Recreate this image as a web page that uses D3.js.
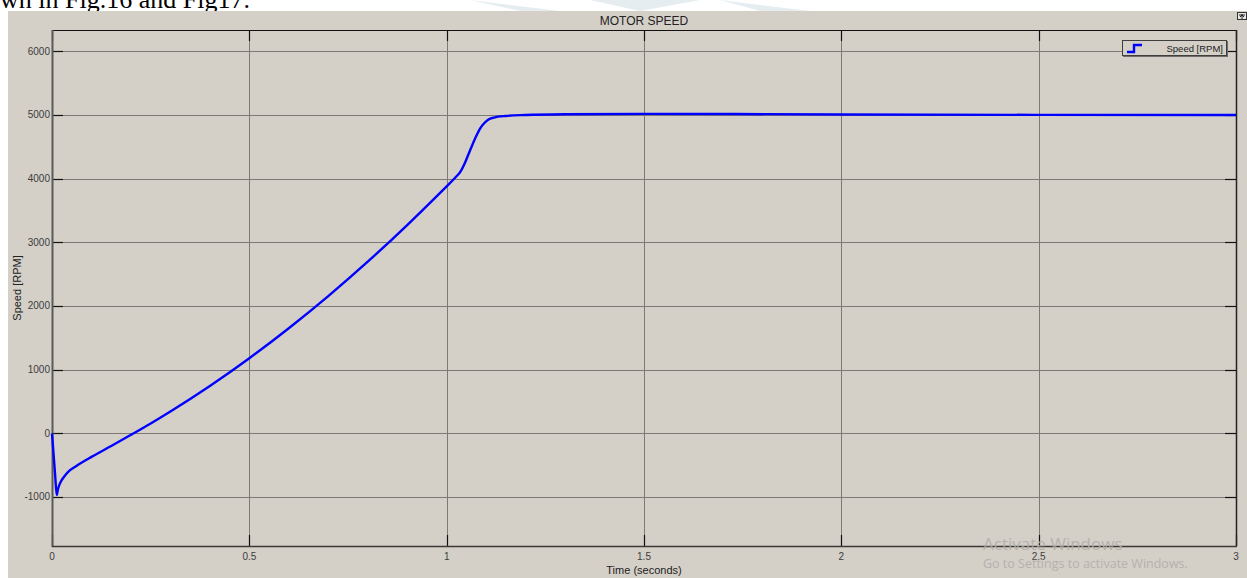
<!DOCTYPE html>
<html>
<head>
<meta charset="utf-8">
<script src="https://cdn.jsdelivr.net/npm/d3@7"></script>
<style>
  html, body { margin: 0; padding: 0; background: #ffffff; }
  svg { display: block; }
</style>
</head>
<body>
<svg id="chart" width="1247" height="578"></svg>
<script>
// Simulated motor speed response (scope trace)
const timeSec = [0, 0.004, 0.008, 0.012, 0.015, 0.02, 0.025, 0.032, 0.041, 0.06, 0.1, 0.15, 0.2, 0.25, 0.3, 0.4, 0.5, 0.6, 0.7, 0.8, 0.9, 0.97, 1.0, 1.025, 1.035, 1.045, 1.055, 1.065, 1.075, 1.085, 1.095, 1.105, 1.12, 1.15, 1.2, 1.3, 1.5, 2.0, 2.5, 3.0];
const speedRpm = [0, -330, -660, -970, -880, -790, -730, -670, -605, -520, -370, -200, -24, 155, 343, 744, 1180, 1651, 2156, 2696, 3271, 3694, 3880, 4038, 4110, 4230, 4380, 4530, 4670, 4790, 4870, 4925, 4960, 4985, 5000, 5012, 5018, 5008, 5002, 5000];

const xTicks = [0, 0.5, 1, 1.5, 2, 2.5, 3];
const xTickLabels = ["0", "0.5", "1", "1.5", "2", "2.5", "3"];
const yTicks = [-1000, 0, 1000, 2000, 3000, 4000, 5000, 6000];
const yTickLabels = ["-1000", "0", "1000", "2000", "3000", "4000", "5000", "6000"];

const titleText = "MOTOR SPEED";
const xLabel = "Time (seconds)";
const yLabel = "Speed [RPM]";
const legendLabel = "Speed [RPM]";

const svg = d3.select("#chart");
const W = 1247, H = 578;
const plot = { left: 52, top: 30, right: 1236, bottom: 546 };
const bg = "#d4d0c8";

// Caption fragment from the surrounding document, clipped at the top edge
svg.append("text")
  .attr("x", 0).attr("y", 8)
  .attr("font-family", "Liberation Serif, Times New Roman, serif")
  .attr("font-size", 26)
  .attr("fill", "#000")
  .text("wn in Fig.16 and Fig17.");

// Scope window background
svg.append("rect")
  .attr("x", 8).attr("y", 11)
  .attr("width", W - 8).attr("height", H - 11)
  .attr("fill", bg);

// Faint page watermark above the scope window
svg.append("path")
  .attr("d", "M470,0 L560,11 L520,11 Z M590,0 L700,0 L640,11 Z M720,0 L810,11 L760,11 Z")
  .attr("fill", "#dfe8ec").attr("opacity", 0.8);

const x = d3.scaleLinear().domain([0, 3]).range([plot.left, plot.right]);
const y = d3.scaleLinear().domain([-1770, 6335]).range([plot.bottom, plot.top]);

const g = svg.append("g");

// Plot area
g.append("rect")
  .attr("x", plot.left).attr("y", plot.top)
  .attr("width", plot.right - plot.left).attr("height", plot.bottom - plot.top)
  .attr("fill", bg);

// Grid lines
g.append("g").selectAll("line").data(xTicks.slice(1, -1)).join("line")
  .attr("x1", d => Math.round(x(d)) + 0.5).attr("x2", d => Math.round(x(d)) + 0.5)
  .attr("y1", plot.top).attr("y2", plot.bottom)
  .attr("stroke", "#7d7a75").attr("stroke-width", 1);
g.append("g").selectAll("line").data(yTicks).join("line")
  .attr("x1", plot.left).attr("x2", plot.right)
  .attr("y1", d => Math.round(y(d)) + 0.5).attr("y2", d => Math.round(y(d)) + 0.5)
  .attr("stroke", "#7d7a75").attr("stroke-width", 1);

// Inward tick marks on all four sides
const tickLen = 11;
g.append("g").selectAll("line").data(yTicks).join("line")
  .attr("x1", plot.left).attr("x2", plot.left + tickLen)
  .attr("y1", d => Math.round(y(d)) + 0.5).attr("y2", d => Math.round(y(d)) + 0.5)
  .attr("stroke", "#111").attr("stroke-width", 1.2);
g.append("g").selectAll("line").data(yTicks).join("line")
  .attr("x1", plot.right - tickLen).attr("x2", plot.right)
  .attr("y1", d => Math.round(y(d)) + 0.5).attr("y2", d => Math.round(y(d)) + 0.5)
  .attr("stroke", "#111").attr("stroke-width", 1.2);
g.append("g").selectAll("line").data(xTicks).join("line")
  .attr("x1", d => Math.round(x(d)) + 0.5).attr("x2", d => Math.round(x(d)) + 0.5)
  .attr("y1", plot.bottom - tickLen).attr("y2", plot.bottom)
  .attr("stroke", "#111").attr("stroke-width", 1.2);
g.append("g").selectAll("line").data(xTicks).join("line")
  .attr("x1", d => Math.round(x(d)) + 0.5).attr("x2", d => Math.round(x(d)) + 0.5)
  .attr("y1", plot.top).attr("y2", plot.top + tickLen)
  .attr("stroke", "#111").attr("stroke-width", 1.2);

// Frame: dark top/right, grey left/bottom
g.append("line").attr("x1", plot.left).attr("x2", plot.right + 1)
  .attr("y1", plot.top + 0.5).attr("y2", plot.top + 0.5)
  .attr("stroke", "#111").attr("stroke-width", 1.2);
g.append("line").attr("x1", plot.right + 0.5).attr("x2", plot.right + 0.5)
  .attr("y1", plot.top).attr("y2", plot.bottom)
  .attr("stroke", "#222").attr("stroke-width", 1.5);
g.append("line").attr("x1", plot.left + 0.5).attr("x2", plot.left + 0.5)
  .attr("y1", plot.top).attr("y2", plot.bottom + 1)
  .attr("stroke", "#5c5a57").attr("stroke-width", 2);
g.append("line").attr("x1", plot.left).attr("x2", plot.right + 1)
  .attr("y1", plot.bottom + 0.5).attr("y2", plot.bottom + 0.5)
  .attr("stroke", "#3a3936").attr("stroke-width", 1.5);

// Speed trace
const pts = timeSec.map((t, i) => [t, speedRpm[i]]);
const line = d3.line().x(d => x(d[0])).y(d => y(d[1])).curve(d3.curveMonotoneX);
g.append("path")
  .datum(pts)
  .attr("d", line)
  .attr("fill", "none")
  .attr("stroke", "#0000ff")
  .attr("stroke-width", 2.4)
  .attr("stroke-linejoin", "round");

// Tick labels
const labelFont = "Liberation Sans, Arial, sans-serif";
g.append("g").selectAll("text").data(yTicks).join("text")
  .attr("x", plot.left - 2).attr("y", d => y(d) + 3.5)
  .attr("text-anchor", "end")
  .attr("font-family", labelFont).attr("font-size", 10)
  .attr("fill", "#3c3c3c")
  .text((d, i) => yTickLabels[i]);
g.append("g").selectAll("text").data(xTicks).join("text")
  .attr("x", d => x(d)).attr("y", plot.bottom + 14)
  .attr("text-anchor", "middle")
  .attr("font-family", labelFont).attr("font-size", 10)
  .attr("fill", "#3c3c3c")
  .text((d, i) => xTickLabels[i]);

// Title and axis labels
svg.append("text")
  .attr("x", (plot.left + plot.right) / 2).attr("y", 25)
  .attr("text-anchor", "middle")
  .attr("font-family", labelFont).attr("font-size", 12)
  .attr("fill", "#222")
  .text(titleText);
svg.append("text")
  .attr("x", (plot.left + plot.right) / 2).attr("y", 574)
  .attr("text-anchor", "middle")
  .attr("font-family", labelFont).attr("font-size", 11)
  .attr("fill", "#222")
  .text(xLabel);
svg.append("text")
  .attr("transform", `translate(21,${(plot.top + plot.bottom) / 2}) rotate(-90)`)
  .attr("text-anchor", "middle")
  .attr("font-family", labelFont).attr("font-size", 11)
  .attr("fill", "#222")
  .text(yLabel);

// Legend box
const lg = svg.append("g").attr("transform", "translate(1122,40)");
lg.append("rect").attr("x", 1).attr("y", 1).attr("width", 105).attr("height", 16)
  .attr("fill", "#6f6d69");
lg.append("rect").attr("x", 0.5).attr("y", 0.5).attr("width", 104).attr("height", 15)
  .attr("fill", bg).attr("stroke", "#3f3e3c").attr("stroke-width", 1);
lg.append("path")
  .attr("d", "M5,12 L12,12 L12,5 L20,5")
  .attr("fill", "none").attr("stroke", "#0000ff").attr("stroke-width", 2.4);
lg.append("text")
  .attr("x", 101).attr("y", 11.5)
  .attr("text-anchor", "end")
  .attr("font-family", labelFont).attr("font-size", 9.5)
  .attr("fill", "#222")
  .text(legendLabel);

// Dock button in the top right corner
const db = svg.append("g").attr("transform", "translate(1237,12)");
db.append("rect").attr("x", 0.5).attr("y", 0.5).attr("width", 9).attr("height", 7)
  .attr("fill", "#e8e6e1").attr("stroke", "#333").attr("stroke-width", 1);
db.append("path").attr("d", "M2,3 L8,3 M5,2 L5,7 M3,5 L5,3 L7,5")
  .attr("fill", "none").attr("stroke", "#222").attr("stroke-width", 1);

// Operating system activation watermark
svg.append("text")
  .attr("x", 983).attr("y", 550)
  .attr("font-family", "Open Sans, Noto Sans, sans-serif").attr("font-size", 17)
  .attr("fill", "#b2afaa").attr("opacity", 0.9)
  .text("Activate Windows");
svg.append("text")
  .attr("x", 983).attr("y", 568)
  .attr("font-family", "Open Sans, Noto Sans, sans-serif").attr("font-size", 12.5)
  .attr("fill", "#b2afaa").attr("opacity", 0.9)
  .text("Go to Settings to activate Windows.");
</script>
</body>
</html>
